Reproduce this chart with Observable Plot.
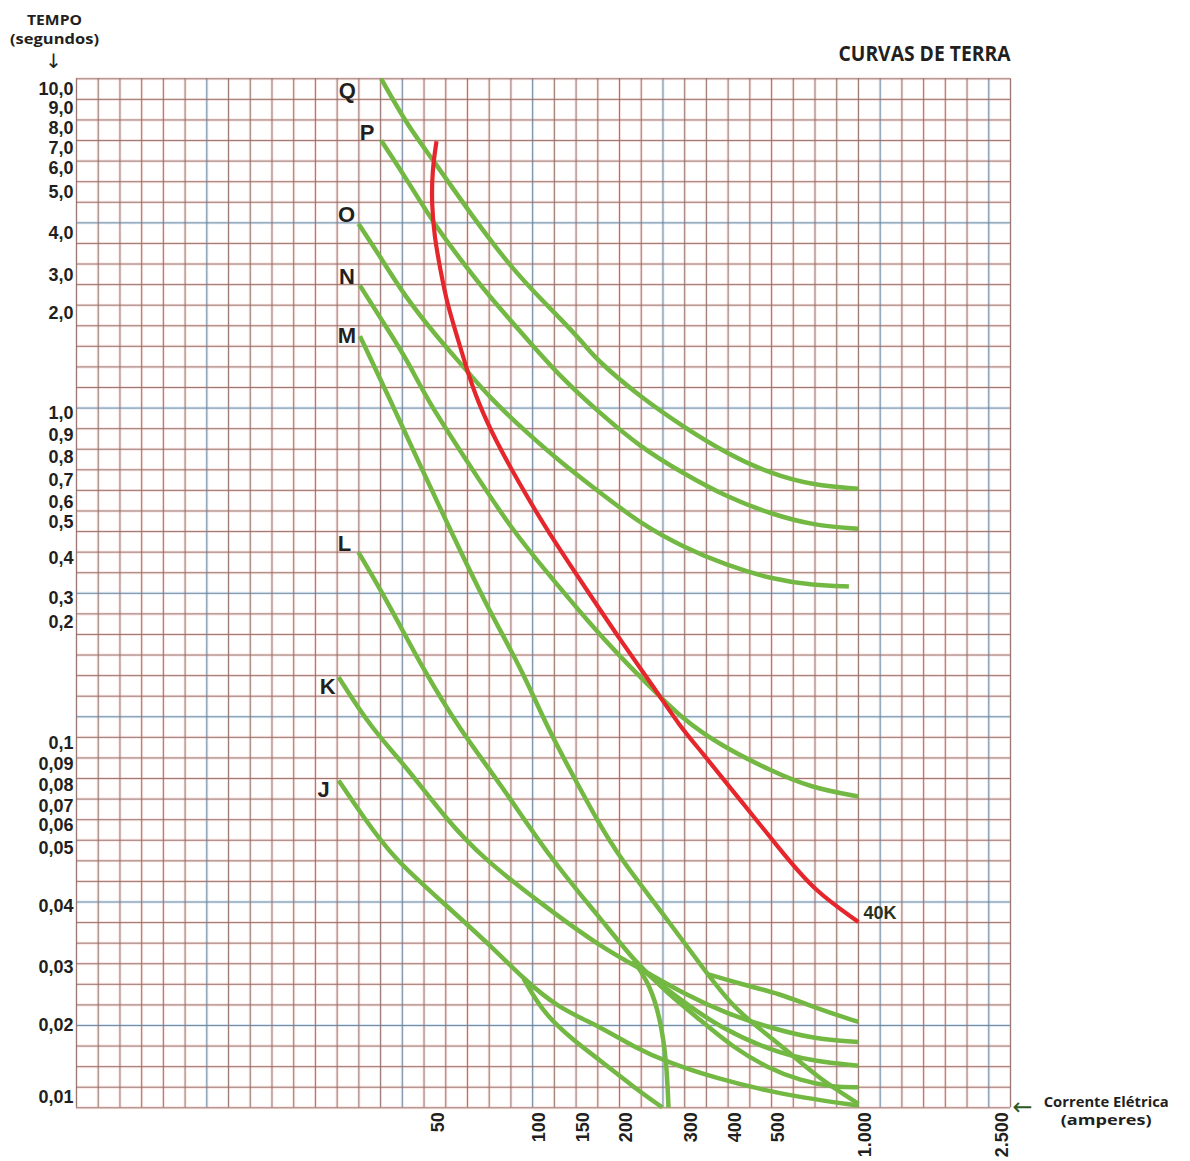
<!DOCTYPE html>
<html><head><meta charset="utf-8">
<script src="https://cdn.jsdelivr.net/npm/d3@7"></script>
<script src="https://cdn.jsdelivr.net/npm/@observablehq/plot@0.6"></script>
<style>
html,body{margin:0;padding:0;background:#fff;}
#chart{width:1190px;height:1161px;}
</style></head><body><div id="chart"></div>
<script>
// ---------- DATA ----------
// X axis: corrente elétrica (A)
const xTickVals   = [0, 50, 100, 150, 200, 300, 400, 500, 1000, 2500];
const xTickLabels = ["", "50", "100", "150", "200", "300", "400", "500", "1.000", "2.500"];
// Y axis: tempo (s)
const yTickVals   = [10, 9, 8, 7, 6, 5, 4, 3, 2, 1, 0.9, 0.8, 0.7, 0.6, 0.5, 0.4, 0.3, 0.2, 0.1, 0.09, 0.08, 0.07, 0.06, 0.05, 0.04, 0.03, 0.02, 0.01];
const yTickLabels = ["10,0","9,0","8,0","7,0","6,0","5,0","4,0","3,0","2,0","1,0","0,9","0,8","0,7","0,6","0,5","0,4","0,3","0,2","0,1","0,09","0,08","0,07","0,06","0,05","0,04","0,03","0,02","0,01"];

// Curves: [amperes, seconds]
const curveQ = [[42.9,10.51],[46.6,8.15],[50.3,6.49],[69.3,4.48],[89.1,3.2],[112.9,2.3],[132.1,1.947],[158.9,1.697],[174.3,1.53],[232.2,1.163],[298.6,0.938],[397.9,0.816],[497.7,0.729],[743.4,0.677],[1000,0.662]];
const curveP = [[42.9,7.4],[46.6,5.5],[51.1,4.24],[65.9,3.28],[78.2,2.47],[96.5,1.76],[132.1,1.363],[178.1,0.999],[232.2,0.846],[298.6,0.729],[397.9,0.623],[497.7,0.542],[743.4,0.491],[1000,0.482]];
const curveO = [[39.7,4.24],[42.8,3.44],[46.3,2.43],[52.8,1.763],[65.9,1.463],[79.2,1.147],[96.5,0.918],[132.1,0.779],[174.3,0.654],[232.2,0.496],[298.6,0.431],[397.9,0.3825],[497.7,0.349],[743.4,0.3325],[944.8,0.33]];
const curveN = [[39.9,2.737],[43.3,1.897],[46.6,1.53],[49.4,1.13],[68.3,0.773],[89.9,0.477],[124.4,0.345],[162.8,0.207],[201.5,0.1711],[252.6,0.1437],[293.6,0.1217],[382.5,0.099],[497.7,0.0871],[724.4,0.079],[1000,0.0747]];
const curveM = [[39.9,1.773],[44.2,1.13],[48.4,0.764],[59.4,0.477],[77.5,0.263],[94.0,0.163],[116.8,0.1134],[147.4,0.084],[174.3,0.0626],[201.5,0.0482],[262.9,0.0393],[351.8,0.0288],[413.1,0.0231],[467,0.0198],[590.3,0.0165],[763,0.0128],[1000,0.0091]];
const curveM2 = [[351.8,0.0288],[428.6,0.0271],[551.8,0.0254],[743.4,0.0231],[1000,0.0206]];
const curveL = [[39.7,0.417],[43.7,0.2916],[48.9,0.16],[64.3,0.1107],[84.1,0.0808],[120.6,0.0482],[178.1,0.038],[221.5,0.0311],[273.6,0.0255],[336.4,0.0209],[412.4,0.0169],[490.8,0.0141],[666.9,0.0123],[856.7,0.0114],[1000,0.0114]];
const curveL2 = [[221.5,0.0311],[247.5,0.0268],[262.9,0.0209],[272.1,0.0151],[275.2,0.00856]];
const curveK = [[36.9,0.1547],[41.4,0.1134],[46.1,0.0903],[57.7,0.0626],[75.8,0.0482],[109.1,0.0405],[178.1,0.0333],[237.3,0.0294],[298.6,0.0254],[397.9,0.022],[490.1,0.0198],[743.4,0.0181],[1000,0.0177]];
const curveK2 = [[237.3,0.0294],[293.6,0.0243],[382.5,0.0197],[497.7,0.0165],[741.6,0.015],[1000,0.0144]];
const curveJ = [[36.9,0.0824],[40.4,0.0643],[44.7,0.0482],[54.4,0.041],[79.2,0.0335],[95.5,0.028],[128.3,0.0231],[178.1,0.0198],[221.9,0.017],[273.2,0.0149],[374.9,0.0126],[490.1,0.0109],[666.9,0.01],[1000,0.00884]];
const curveJ2 = [[95.5,0.028],[112.9,0.022],[147.4,0.0179],[178.1,0.0151],[221.9,0.0114],[265.5,0.0086]];
const curve40K = [[52.4,7.365],[50.3,5.917],[50.0,4.724],[51.4,3.912],[54.4,3.119],[57.7,2.255],[62.7,1.763],[67.6,1.43],[72.6,1.13],[81.6,0.877],[94.0,0.677],[116.8,0.477],[162.8,0.32],[201.5,0.185],[252.6,0.1464],[293.6,0.1134],[336.4,0.0967],[428.6,0.0728],[551.8,0.0497],[743.4,0.0427],[1000,0.0374]];

const greenCurves = [curveQ, curveP, curveO, curveN, curveM, curveM2, curveL, curveL2, curveK, curveK2, curveJ, curveJ2];
const curveNames  = ["Q", "P", "O", "N", "M", "L", "K", "J"];
const namedCurves = [curveQ, curveP, curveO, curveN, curveM, curveL, curveK, curveJ];

// ---------- LAYOUT (positions & styles) ----------
const W = 1190, H = 1161, ML = 76, MT = 78.3, MR = 180, MB = 53.7;
const nCols = 43, nRows = 50;
const colW = (W - ML - MR) / nCols, rowH = (H - MT - MB) / nRows;
// where each tick value sits, in grid cells
const xTickCols = [0, 16.35, 21, 23, 25, 28, 30, 32, 36, 42.3];
const yTickRows = [0.49, 1.44, 2.42, 3.39, 4.36, 5.53, 7.52, 9.56, 11.40, 16.26, 17.33, 18.39, 19.52, 20.57, 21.55, 23.31, 25.25, 26.40, 32.30, 33.32, 34.34, 35.35, 36.28, 37.40, 40.20, 43.16, 46.00, 49.49];
const labelOffsets = {Q: [-34, 12], P: [-14, -8], O: [-12, -9], N: [-13, -8.5], M: [-13, 0], L: [-14, -8], K: [-11, 10], J: [-15, 9]};
const blueCols = new Set([6, 15, 21, 27, 37, 42]);
const blueRows = new Set([7, 16, 25, 31, 40, 46]);
const GREEN = "#72b843", RED = "#e5262c", INK = "#231f20";

// grid lines in data units (inverse of the piecewise scales)
const colToAmp = d3.scaleLinear().domain(xTickCols).range(xTickVals);
const rowToSec = d3.scaleLinear().domain(yTickRows).range(yTickVals);
const gridX = d3.range(0, nCols + 1).map(c => ({v: colToAmp(c), blue: blueCols.has(c)}));
const gridY = d3.range(0, nRows + 1).map(r => ({v: rowToSec(r), blue: blueRows.has(r)}));

const titleFont = "Open Sans, Liberation Sans, sans-serif";
const arrowFont = "DejaVu Sans, sans-serif";

const marks = [
  // grid halos
  Plot.ruleX(gridX, {x: "v", stroke: d => d.blue ? "#a9c3db" : "#eeb0a6", strokeWidth: 3, strokeOpacity: 0.35}),
  Plot.ruleY(gridY, {y: "v", stroke: d => d.blue ? "#a9c3db" : "#eeb0a6", strokeWidth: 3, strokeOpacity: 0.35}),
  // grid cores
  Plot.ruleX(gridX, {x: "v", stroke: d => d.blue ? "#66819a" : "#8e6d68", strokeWidth: 0.9}),
  Plot.ruleY(gridY, {y: "v", stroke: d => d.blue ? "#66819a" : "#8e6d68", strokeWidth: 0.9}),
  // green curves
  ...greenCurves.map(c => Plot.line(c, {x: d => d[0], y: d => d[1], stroke: GREEN, strokeWidth: 4.5, curve: "basis", strokeLinecap: "butt", strokeLinejoin: "round"})),
  // red 40K
  Plot.line(curve40K, {x: d => d[0], y: d => d[1], stroke: RED, strokeWidth: 4.2, curve: "basis", strokeLinecap: "butt"}),
  Plot.text([curve40K[curve40K.length - 1]], {x: d => d[0], y: d => d[1], text: () => "40K", textAnchor: "start", dx: 5, dy: -9, fontSize: 18, fontWeight: "bold", fill: "#2a2f22"}),
  // curve letters
  ...namedCurves.map((c, i) => Plot.text([c[0]], {x: d => d[0], y: d => d[1], text: () => curveNames[i], textAnchor: "middle", lineAnchor: "middle", dx: labelOffsets[curveNames[i]][0], dy: labelOffsets[curveNames[i]][1], fontSize: 22, fontWeight: "bold", fill: INK})),
  // y tick labels
  Plot.text(yTickVals, {y: d => d, text: (d, i) => yTickLabels[i], frameAnchor: "left", textAnchor: "end", lineAnchor: "middle", dx: -3, fontSize: 18, fontWeight: "bold", fill: INK}),
  // x tick labels (rotated)
  Plot.text(xTickVals.slice(1), {x: d => d, text: (d, i) => xTickLabels[i + 1], frameAnchor: "bottom", rotate: -90, textAnchor: "end", lineAnchor: "top", dy: 4.5, fontSize: 18, fontWeight: "bold", fill: INK}),
  // titles
  Plot.text(["TEMPO\n(segundos)"], {frameAnchor: "top-left", text: d => d, dx: -22, dy: -67, textAnchor: "middle", lineAnchor: "top", lineHeight: 1.25, fontSize: 15, fontWeight: "bold", fontFamily: titleFont, fill: INK}),
  Plot.text(["↓"], {frameAnchor: "top-left", text: d => d, dx: -23, dy: -17, textAnchor: "middle", lineAnchor: "middle", fontSize: 20, fontFamily: arrowFont, fill: INK}),
  Plot.text(["CURVAS DE TERRA"], {frameAnchor: "top-right", text: d => d, dx: 0, dy: -24.8, textAnchor: "end", lineAnchor: "middle", fontSize: 21, fontWeight: "bold", fontFamily: titleFont, fill: INK}),
  Plot.text(["←"], {frameAnchor: "bottom-right", text: d => d, dx: 12, dy: 0, textAnchor: "middle", lineAnchor: "middle", fontSize: 24, fontFamily: arrowFont, fill: "#2f5a1f"}),
  Plot.text(["Corrente Elétrica\n(amperes)"], {frameAnchor: "bottom-right", text: d => d, dx: 95.7, dy: -14, textAnchor: "middle", lineAnchor: "top", lineHeight: 1.2, fontSize: 15, fontWeight: "bold", fontFamily: titleFont, fill: INK})
];

const svg = Plot.plot({
  width: W, height: H,
  marginLeft: ML, marginTop: MT, marginRight: MR, marginBottom: MB,
  x: {type: "linear", domain: xTickVals, range: xTickCols.map(c => ML + c * colW), axis: null},
  y: {type: "linear", domain: yTickVals, range: yTickRows.map(r => MT + r * rowH), axis: null},
  style: {fontFamily: "Liberation Sans, Arial, sans-serif", background: "white", overflow: "visible"},
  marks
});

// condensed title lettering
const fit = {"TEMPO": 55, "(segundos)": 89, "CURVAS DE TERRA": 172, "Corrente Elétrica": 125, "(amperes)": 91};
d3.select(svg).selectAll("text, tspan").each(function () {
  if (this.querySelector && this.querySelector("tspan")) return;
  const t = this.textContent;
  if (fit[t]) { this.setAttribute("textLength", fit[t]); this.setAttribute("lengthAdjust", "spacingAndGlyphs"); }
});
document.getElementById("chart").appendChild(svg);
</script></body></html>
